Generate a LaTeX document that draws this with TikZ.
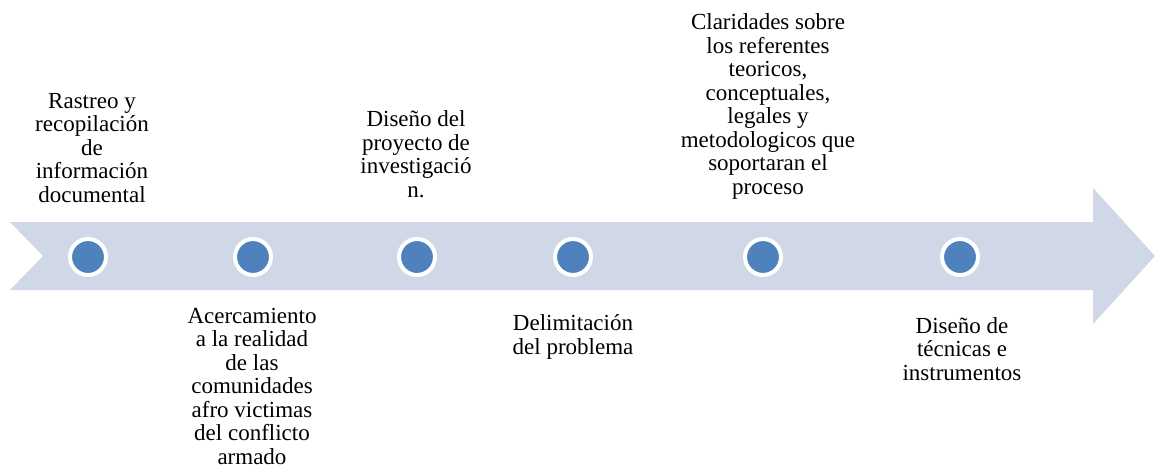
\documentclass[tikz,border=0pt]{standalone}
\usepackage{fontspec}
\setmainfont{Liberation Serif}
\definecolor{bandcol}{RGB}{208,216,232}
\definecolor{dotcol}{RGB}{79,129,189}
\tikzset{
  lbl/.style={align=center, inner sep=0pt, anchor=base, font=\fontsize{23}{23.5}\selectfont},
  dot/.style={circle, fill=dotcol, draw=white, line width=4pt, minimum size=36pt, inner sep=0pt}
}
\begin{document}
\begin{tikzpicture}[x=1pt,y=-1pt]
\useasboundingbox (0,0) rectangle (1155,474);
\fill[bandcol] (10,222) -- (1093,222) -- (1093,188) -- (1155,256) -- (1093,324) -- (1093,290) -- (10,290) -- (43,256) -- cycle;
\node[dot] (d1) at (88,257) {};
\node[dot] (d2) at (253,257) {};
\node[dot] (d3) at (417,257) {};
\node[dot] (d4) at (573,257) {};
\node[dot] (d5) at (763,257) {};
\node[dot] (d6) at (960,257) {};
\node[lbl] (t1) at (92,202) {Rastreo y\\recopilación\\de\\información\\documental};
\node[lbl] (t2) at (416,197) {Diseño del\\proyecto de\\investigació\\n.};
\node[lbl] (t3) at (768,194) {Claridades sobre\\los referentes\\teoricos,\\conceptuales,\\legales y\\metodologicos que\\soportaran el\\proceso};
\node[lbl] (b1) at (252,464) {Acercamiento\\a la realidad\\de las\\comunidades\\afro victimas\\del conflicto\\armado};
\node[lbl] (b2) at (573,354) {Delimitación\\del problema};
\node[lbl] (b3) at (962,380) {Diseño de\\técnicas e\\instrumentos};
\end{tikzpicture}
\end{document}
